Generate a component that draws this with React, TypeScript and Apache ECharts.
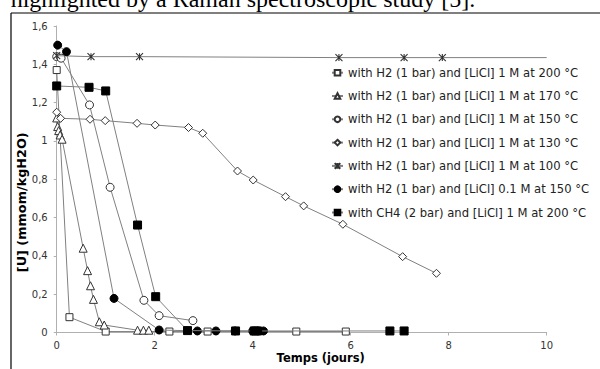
import React, { useEffect, useRef } from "react";
import * as echarts from "echarts";

const seriesNames = [
  "with H2 (1 bar) and [LiCl] 1 M at 200 °C",
  "with H2 (1 bar) and [LiCl] 1 M at 170 °C",
  "with H2 (1 bar) and [LiCl] 1 M at 150 °C",
  "with H2 (1 bar) and [LiCl] 1 M at 130 °C",
  "with H2 (1 bar) and [LiCl] 1 M at 100 °C",
  "with H2 (1 bar) and [LiCl] 0.1 M at 150 °C",
  "with CH4 (2 bar) and [LiCl] 1 M at 200 °C",
];

const h2At200 = [[0, 1.37], [0.26, 0.08], [1.0, 0.005], [2.3, 0.005], [3.08, 0.005], [4.89, 0.005], [5.9, 0.005]];
const h2At170 = [[0, 1.12], [0.02, 1.075], [0.04, 1.054], [0.07, 1.031], [0.11, 1.009], [0.54, 0.44], [0.63, 0.323], [0.69, 0.244], [0.75, 0.173], [0.87, 0.056], [0.97, 0.039], [1.65, 0.012], [1.77, 0.012], [1.88, 0.012]];
const h2At150 = [[0, 1.44], [0.09, 1.432], [0.67, 1.188], [1.09, 0.758], [1.78, 0.168], [2.09, 0.088], [2.78, 0.062]];
const h2At130 = [[0, 1.15], [0.08, 1.118], [0.68, 1.113], [0.99, 1.106], [1.64, 1.092], [2.01, 1.083], [2.69, 1.07], [2.98, 1.04], [3.69, 0.843], [4.01, 0.796], [4.67, 0.709], [5.04, 0.661], [5.84, 0.565], [7.06, 0.396], [7.75, 0.309]];
const h2At100 = [[0, 1.445], [0.7, 1.44], [1.69, 1.44], [5.76, 1.435], [7.09, 1.435], [7.87, 1.435], [10, 1.435]];
const h2Dilute150 = [[0.02, 1.5], [0.2, 1.466], [1.17, 0.178], [2.09, 0.013], [2.87, 0.008], [3.25, 0.008], [3.64, 0.008], [4.0, 0.008], [4.12, 0.008], [4.22, 0.008]];
const ch4At200 = [[0, 1.287], [0.66, 1.28], [1.0, 1.261], [1.65, 0.561], [2.02, 0.187], [2.67, 0.01], [3.65, 0.008], [4.03, 0.008], [4.1, 0.008], [6.8, 0.008], [7.09, 0.008]];

const xTicks = { min: 0, max: 10, interval: 2 };
const yTicks = { min: 0, max: 1.6, interval: 0.2 };

const headerText = "highlighted by a Raman spectroscopic study [5].";
const xName = "Temps (jours)";
const yName = "[U] (mmom/kgH2O)";

const asterisk = "path://M0,0L10,10M10,0L0,10M5,0L5,10";

export default function App() {
  const ref = useRef<HTMLDivElement>(null);
  useEffect(() => {
    if (!ref.current) return;
    const chart = echarts.init(ref.current, null, { renderer: "svg" });
    const lineColor = "#808080";
    const open = (symbol: string, size: number) => ({
      symbol,
      symbolSize: size,
      itemStyle: { color: "#ffffff", borderColor: "#333333", borderWidth: 1 },
    });
    const filled = (symbol: string, size: number) => ({
      symbol,
      symbolSize: size,
      itemStyle: { color: "#000000", borderColor: "#000000", borderWidth: 1 },
    });
    const styles = [
      open("rect", 7),
      open("triangle", 8),
      open("circle", 8),
      open("diamond", 8),
      { symbol: asterisk, symbolSize: 7, itemStyle: { color: "#333333", borderColor: "#333333", borderWidth: 1.1 } },
      filled("circle", 8),
      filled("rect", 8),
    ];
    const datas = [h2At200, h2At170, h2At150, h2At130, h2At100, h2Dilute150, ch4At200];
    const series = datas.map((d, i) => ({
      name: seriesNames[i],
      type: "line",
      data: i === 4 ? d.map((p, j) => (j === d.length - 1 ? { value: p, symbolSize: 0 } : p)) : d,
      showAllSymbol: true,
      lineStyle: { color: lineColor, width: 1 },
      ...styles[i],
      z: 2 + i,
    }));
    const fmt = (v: number) => String(Math.round(v * 10) / 10).replace(".", ",");
    chart.setOption({
      animation: false,
      backgroundColor: "#ffffff",
      grid: { left: 56.7, right: 53.3, top: 26, bottom: 36.5 },
      xAxis: {
        type: "value",
        ...xTicks,
        name: xName,
        nameLocation: "middle",
        nameGap: 19,
        nameMoveOverlap: false,
        nameTextStyle: { fontFamily: "DejaVu Sans", fontWeight: "bold", fontSize: 11.5, color: "#000", padding: [0, 0, 0, 38] },
        axisLine: { lineStyle: { color: "#b0b0b0", width: 1 } },
        axisTick: { show: true, length: 3, lineStyle: { color: "#b0b0b0" } },
        splitLine: { show: false },
        axisLabel: { fontFamily: "DejaVu Sans", fontSize: 10, color: "#333", margin: 8, formatter: fmt },
      },
      yAxis: {
        type: "value",
        ...yTicks,
        name: yName,
        nameLocation: "middle",
        nameGap: 29,
        nameRotate: 90,
        nameMoveOverlap: false,
        nameTextStyle: { fontFamily: "DejaVu Sans", fontWeight: "bold", fontSize: 12.8, color: "#000", padding: [0, 46, 0, 0] },
        axisLine: { show: true, lineStyle: { color: "#b0b0b0", width: 1 } },
        axisTick: { show: true, length: 3, lineStyle: { color: "#b0b0b0" } },
        splitLine: { show: false },
        axisLabel: { fontFamily: "DejaVu Sans", fontSize: 10, color: "#333", margin: 9, formatter: fmt },
      },
      legend: {
        orient: "vertical",
        left: 331,
        top: 65.7,
        padding: 0,
        itemGap: 9.3,
        itemWidth: 11,
        itemHeight: 7,
        textStyle: { fontFamily: "DejaVu Sans", fontSize: 11.6, color: "#222", lineHeight: 14 },
        data: seriesNames,
      },
      graphic: [
        {
          type: "text",
          x: 10.7,
          y: -0.6,
          style: { text: headerText, font: "24px 'Liberation Serif', 'Times New Roman', serif", fill: "#000", verticalAlign: "middle", align: "left" },
        },
        { type: "line", shape: { x1: 11, y1: 13, x2: 600, y2: 13 }, style: { stroke: "#000", lineWidth: 1.2 } },
        { type: "line", shape: { x1: 11, y1: 13, x2: 11, y2: 369 }, style: { stroke: "#000", lineWidth: 1.2 } },
      ],
      series,
    });
    return () => chart.dispose();
  }, []);
  return <div ref={ref} style={{ position: "absolute", left: 0, top: 0, width: 600, height: 369 }} />;
}
